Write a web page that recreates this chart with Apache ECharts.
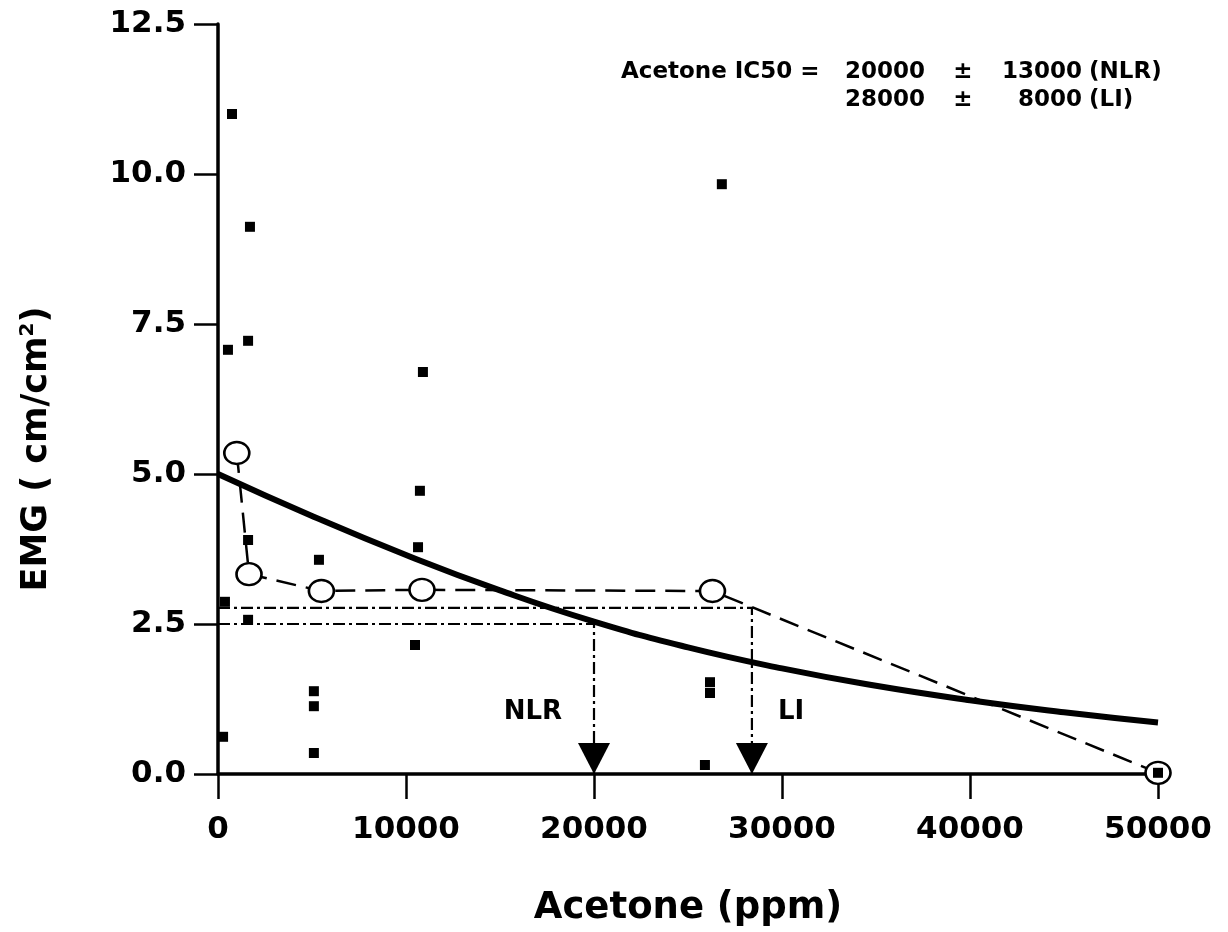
<!DOCTYPE html>
<html><head><meta charset="utf-8">
<script src="https://cdn.jsdelivr.net/npm/echarts@6/dist/echarts.min.js"></script>
<style>html,body{margin:0;padding:0;background:#fff}#c{width:1228px;height:932px}</style>
</head><body><div id="c"></div>
<script>
// ---- data ----
const xTicks = [0, 10000, 20000, 30000, 40000, 50000];
const yTicks = [0, 2.5, 5, 7.5, 10, 12.5];
// individual EMG observations (filled squares)
const rawX = [745, 530, 1700, 1600, 1600, 1600, 370, 270, 5370, 5100, 5100, 5100, 10900, 10740, 10640, 10480, 26800, 26170, 26170, 25900, 50000];
const rawY = [11.0, 7.07, 9.12, 7.22, 3.9, 2.57, 2.87, 0.62, 3.57, 1.38, 1.13, 0.35, 6.7, 4.72, 3.78, 2.15, 9.83, 1.53, 1.35, 0.15, 0.02];
// group means (open circles, dashed)
const meanX = [1000, 1650, 5500, 10850, 26300, 50000];
const meanY = [5.35, 3.33, 3.05, 3.07, 3.05, 0.02];
// nonlinear regression curve (thick solid)
const fitX = [0, 5000, 10000, 15000, 20000, 25000, 30000, 35000, 40000, 45000, 50000];
const fitY = [5.0, 4.3, 3.65, 3.06, 2.54, 2.11, 1.76, 1.47, 1.23, 1.03, 0.86];
// IC50 read-off lines
const nlrX = [0, 20000, 20000];
const nlrY = [2.5, 2.5, 0];
const liX = [0, 28400, 28400];
const liY = [2.77, 2.77, 0];
const arrowX = [20000, 28400];
const arrowNames = ['NLR', 'LI'];
const arrowLabelX = [16750, 30480];
const arrowLabelY = [1.03, 1.03];
// annotation text
const annoLine1 = ['Acetone IC50 =', '20000', '±', '13000', '(NLR)'];
const annoLine2 = ['', '28000', '±', '8000', '(LI)'];

// ---- chart ----
const FONT = 'DejaVu Sans';
const zip = (a, b) => a.map((v, i) => [v, b[i]]);
const chart = echarts.init(document.getElementById('c'));
const dashDot = [12, 4, 3, 4];

function annoTexts(line, y) {
  const els = [];
  const st = (t, x, align) => ({
    type: 'text', x: x, y: y,
    style: { text: t, fontFamily: FONT, fontWeight: 'bold', fontSize: 23, fill: '#000', align: align, verticalAlign: 'middle' }
  });
  if (line[0]) els.push(st(line[0], 621, 'left'));
  els.push(st(line[1], 925, 'right'));
  els.push(st(line[2], 963, 'center'));
  els.push(st(line[3], 1082, 'right'));
  els.push(st(line[4], 1089, 'left'));
  return els;
}

chart.setOption({
  animation: false,
  backgroundColor: '#fff',
  grid: { left: 218, right: 70, top: 24, bottom: 158, containLabel: false },
  xAxis: {
    type: 'value', min: 0, max: 50000, interval: 10000,
    name: 'Acetone (ppm)', nameLocation: 'middle', nameGap: 116,
    nameTextStyle: { fontFamily: FONT, fontWeight: 'bold', fontSize: 37, color: '#000' },
    axisLine: { onZero: false, lineStyle: { color: '#000', width: 3.5 } },
    axisTick: { inside: false, length: 25, lineStyle: { color: '#000', width: 2.5 } },
    axisLabel: { margin: 40, fontFamily: FONT, fontWeight: 'bold', fontSize: 31, color: '#000',
      formatter: v => xTicks.includes(v) ? String(v) : '' },
    splitLine: { show: false }
  },
  yAxis: {
    type: 'value', min: 0, max: 12.5, interval: 2.5,
    name: '{n|EMG ( cm/cm}{s|2}{n|)}', nameLocation: 'middle', nameGap: 162,
    nameTextStyle: {
      fontFamily: FONT, fontWeight: 'bold', fontSize: 35, color: '#000', padding: [0, 100, 0, 0],
      rich: {
        n: { fontFamily: FONT, fontWeight: 'bold', fontSize: 35, color: '#000' },
        s: { fontFamily: FONT, fontWeight: 'bold', fontSize: 20, color: '#000', padding: [0, 0, 18, 0] }
      }
    },
    axisLine: { onZero: false, lineStyle: { color: '#000', width: 3.5 } },
    axisTick: { inside: false, length: 24, lineStyle: { color: '#000', width: 2.5 } },
    axisLabel: { margin: 32, fontFamily: FONT, fontWeight: 'bold', fontSize: 31, color: '#000',
      formatter: v => yTicks.includes(v) ? v.toFixed(1) : '' },
    splitLine: { show: false }
  },
  series: [
    {
      type: 'line', data: zip(nlrX, nlrY), symbol: 'none', z: 2,
      lineStyle: { color: '#000', width: 2.2, type: dashDot }
    },
    {
      type: 'line', data: zip(liX, liY), symbol: 'none', z: 2,
      lineStyle: { color: '#000', width: 2.2, type: dashDot }
    },
    {
      type: 'line', data: zip(fitX, fitY), smooth: true, symbol: 'none', z: 3,
      lineStyle: { color: '#000', width: 6 }
    },
    {
      type: 'line', data: zip(meanX, meanY), z: 4,
      symbol: 'circle', symbolSize: [25, 22], showAllSymbol: true,
      itemStyle: { color: '#fff', borderColor: '#000', borderWidth: 2.5, opacity: 1 },
      lineStyle: { color: '#000', width: 2.5, type: [20, 10] }
    },
    {
      type: 'scatter', data: zip(rawX, rawY), z: 5,
      symbol: 'rect', symbolSize: 10, itemStyle: { color: '#000', opacity: 1 }
    },
    {
      type: 'scatter', data: arrowX.map(x => [x, 0]), z: 6,
      symbol: 'triangle', symbolRotate: 180, symbolSize: [32, 31], symbolOffset: [0, '-50%'],
      itemStyle: { color: '#000', opacity: 1 }
    },
    {
      type: 'scatter', symbolSize: 0, z: 6,
      itemStyle: { opacity: 1 },
      data: arrowNames.map((n, i) => ({ name: n, value: [arrowLabelX[i], arrowLabelY[i]] })),
      label: { show: true, position: 'inside', formatter: p => p.name, opacity: 1,
        fontFamily: FONT, fontWeight: 'bold', fontSize: 26, color: '#000' }
    }
  ],
  graphic: annoTexts(annoLine1, 72).concat(annoTexts(annoLine2, 100))
});
</script>
</body></html>
